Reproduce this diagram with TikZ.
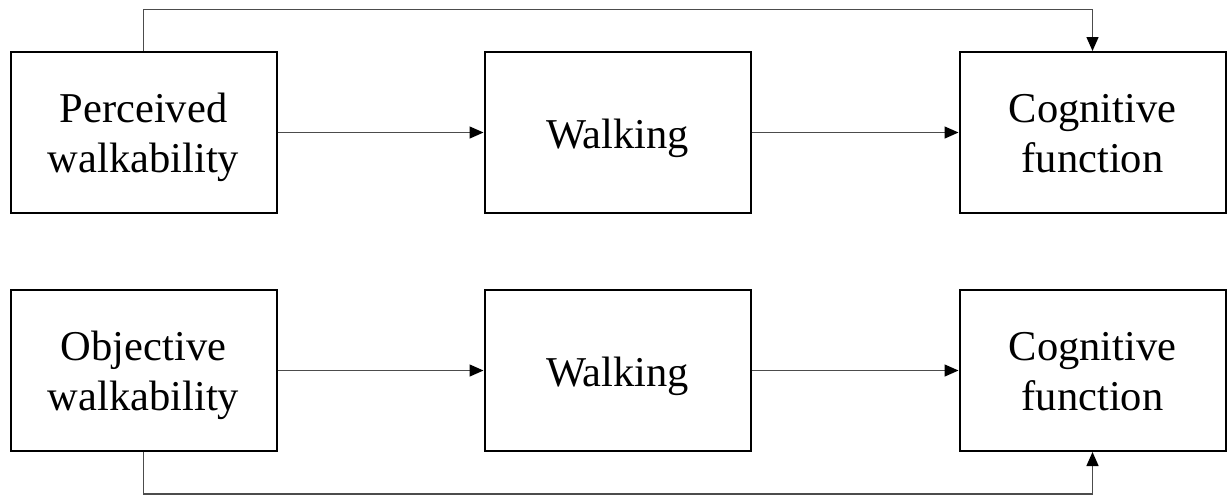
\documentclass[tikz,border=0pt]{standalone}
\usepackage{fontspec}
\setmainfont{Liberation Serif}
\usetikzlibrary{arrows.meta}
% fixed line heights so every label sits at the same baselines
\newcommand\firstln{\rule{0pt}{39pt}}
\newcommand\lastln{\rule[-10pt]{0pt}{10pt}}
\newcommand\oneln{\rule[-10pt]{0pt}{51pt}}
\tikzset{
  box/.style={draw=black, line width=2pt, fill=white, minimum width=266pt,
    minimum height=161pt, inner sep=0pt, align=center,
    font=\fontsize{42.5}{50}\selectfont},
  conn/.style={draw=black!70, line width=1.4pt,
    -{Triangle[length=14pt,width=12pt,fill=black,color=black]}}
}
\begin{document}
\begin{tikzpicture}[x=1pt,y=-1pt]
  \useasboundingbox (0,0) rectangle (1232,496);
  % upper model
  \node[box] (p1) at (143.5,132.5) {\firstln Perceived\\walkability\lastln};
  \node[box] (p2) at (617.5,132.5) {\oneln Walking};
  \node[box] (p3) at (1092.5,132.5) {\firstln Cognitive\\function\lastln};
  % lower model
  \node[box] (o1) at (143.5,370.5) {\firstln Objective\\walkability\lastln};
  \node[box] (o2) at (617.5,370.5) {\oneln Walking};
  \node[box] (o3) at (1092.5,370.5) {\firstln Cognitive\\function\lastln};
  % direct paths
  \coordinate (topline) at (618,9.5);
  \coordinate (botline) at (618,494);
  \draw[conn] (p1.north) |- (topline) -| (p3.north);
  \draw[conn] (o1.south) |- (botline) -| (o3.south);
  % mediated paths
  \draw[conn] (p1) -- (p2);
  \draw[conn] (p2) -- (p3);
  \draw[conn] (o1) -- (o2);
  \draw[conn] (o2) -- (o3);
\end{tikzpicture}
\end{document}
